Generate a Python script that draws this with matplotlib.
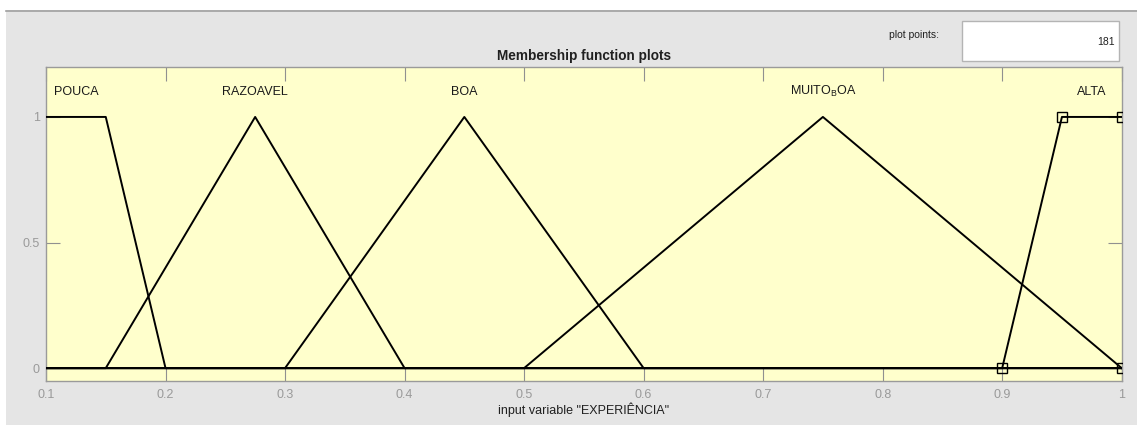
import numpy as np
import matplotlib
matplotlib.use("Agg")
import matplotlib.pyplot as plt
from matplotlib.patches import Rectangle
from matplotlib.lines import Line2D

plt.rcParams["font.family"] = ["Liberation Sans", "DejaVu Sans"]
plt.rcParams["mathtext.default"] = "regular"

# membership functions of the input variable (trapmf parameters a, b, c, d)
mf_names = ["POUCA", "RAZOAVEL", "BOA", r"MUITO$_B$OA", "ALTA"]
mf_params = [
    [-0.05, 0.05, 0.15, 0.2],
    [0.15, 0.275, 0.275, 0.4],
    [0.3, 0.45, 0.45, 0.6],
    [0.5, 0.75, 0.75, 1.0],
    [0.9, 0.95, 1.0, 1.0],
]
label_x = [0.125, 0.275, 0.45, 0.75, 0.975]
selected_mf = 4
plot_points = 181
x_range = [0.1, 1.0]
x_ticks = [0.1, 0.2, 0.3, 0.4, 0.5, 0.6, 0.7, 0.8, 0.9, 1.0]
y_ticks = [0, 0.5, 1]


def trapmf(x, p):
    a, b, c, d = p
    y = np.zeros_like(x)
    up = (x > a) & (x < b)
    y[up] = (x[up] - a) / (b - a)
    y[(x >= b) & (x <= c)] = 1.0
    down = (x > c) & (x < d)
    y[down] = (d - x[down]) / (d - c)
    return y


fig = plt.figure(figsize=(11.37, 4.25), dpi=100, facecolor="white")
W, H = 1137, 425

# grey panel behind the plot
fig.patches.append(Rectangle((6 / W, 0), 1, 1 - 10 / H, transform=fig.transFigure,
                             facecolor="#e5e5e5", edgecolor="none", zorder=-10))
fig.lines.append(Line2D([6 / W, 1], [1 - 10.5 / H, 1 - 10.5 / H], transform=fig.transFigure,
                        color="#a0a0a0", lw=1.2))

ax = fig.add_axes([46 / W, 1 - 380.7 / H, (1121.7 - 46) / W, (380.7 - 66.7) / H])
ax.set_facecolor("#ffffcc")

x = np.linspace(x_range[0], x_range[1], plot_points)
for i, (name, p) in enumerate(zip(mf_names, mf_params)):
    ax.plot(x, trapmf(x, p), color="black", lw=1.4, zorder=3)
    ax.text(label_x[i], 1.1, name, ha="center", va="center", fontsize=9, color="#1a1a1a")

# vertices of the selected function
p = mf_params[selected_mf]
ax.plot(p, [0, 1, 1, 0], ls="none", marker="s", ms=7, mfc="none", mec="black",
        mew=1.0, zorder=4)

ax.set_xlim(x_range)
ax.set_ylim(-0.05, 1.2)
ax.set_xticks(x_ticks)
ax.set_xticklabels(["0.1", "0.2", "0.3", "0.4", "0.5", "0.6", "0.7", "0.8", "0.9", "1"])
ax.set_yticks(y_ticks)
ax.set_yticklabels(["0", "0.5", "1"])
ax.tick_params(direction="in", length=10, width=0.8, color="#909090", labelcolor="#9a9a9a",
               labelsize=9, top=True, right=True)
ax.tick_params(axis="x", pad=6)
ax.tick_params(axis="y", pad=4.5)
for s in ax.spines.values():
    s.set_color("#9a9a9a")
    s.set_linewidth(1.0)

ax.set_title("Membership function plots", fontsize=9.8, fontweight="bold", color="#202020", pad=5)
ax.set_xlabel('input variable "EXPERIÊNCIA"', fontsize=9, color="#202020", labelpad=1)

# plot points box
fig.text(914 / W, 1 - 35 / H, "plot points:", fontsize=7.5, ha="center", va="center", color="#202020")
fig.patches.append(Rectangle((962 / W, 1 - 61 / H), 157 / W, 40 / H, transform=fig.transFigure,
                             facecolor="white", edgecolor="#b4b4b4", lw=1.0))
fig.text(1115 / W, 1 - 42 / H, str(plot_points), fontsize=7.5, ha="right", va="center", color="#202020")

fig.savefig("out.png", dpi=100, facecolor="white")
